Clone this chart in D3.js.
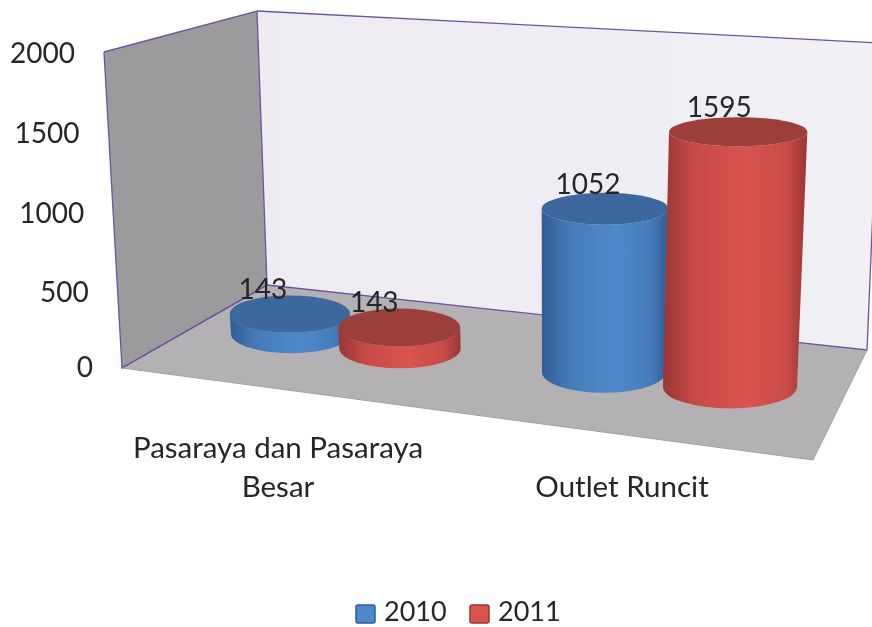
<!DOCTYPE html>
<html><head><meta charset="utf-8">
<script src="https://cdn.jsdelivr.net/npm/d3@7"></script>
<style>html,body{margin:0;padding:0;background:#fff;overflow:hidden}svg{display:block;filter:blur(.45px)}text{font-family:Lato,"Open Sans",sans-serif;fill:#262626}</style>
</head><body><svg id="c" width="872" height="627"></svg>
<script>
const categories=[["Pasaraya dan Pasaraya","Besar"],["Outlet Runcit"]];
const years=["2010","2011"];
const values2010=[143,1052];
const values2011=[143,1595];
const tickValues=[0,500,1000,1500,2000];
const colors={ "2010":{edge:"#2f5c94",mid:"#4f88c9",top:"#3c689e"}, "2011":{edge:"#9a3634",mid:"#d9534f",top:"#9c3f3b"} };

const svg=d3.select("#c"), defs=svg.append("defs");
const line=d3.line();

// room
const LW=[[104,52],[257,11],[267,285],[122,368]];
const BW=[[257,11],[880,43],[867,350],[267,285]];
const FL=[[122,368],[267,285],[867,350],[813,460]];
const bg=defs.append("linearGradient").attr("id","bw").attr("x1",0).attr("x2",1).attr("y1",0).attr("y2",0);
bg.append("stop").attr("offset",0).attr("stop-color","#eeebf2");
bg.append("stop").attr("offset",1).attr("stop-color","#f0f0f5");
svg.append("path").attr("d",line(BW)+"Z").attr("fill","url(#bw)");
svg.append("path").attr("d",line(LW)+"Z").attr("fill","#9b9a9c");
svg.append("path").attr("d",line(FL)+"Z").attr("fill","#b3b1b4");
const pur="#6f52a0";
[[LW[0],LW[1],LW[2],LW[3],LW[0]],[BW[0],BW[1]],[BW[1],BW[2],BW[3]],[FL[0],FL[1]]].forEach(p=>
  svg.append("path").attr("d",line(p)).attr("fill","none").attr("stroke",pur).attr("stroke-width",1.3));
svg.append("path").attr("d",line([FL[2],FL[3],FL[0]])).attr("fill","none").attr("stroke","#a3a1a4").attr("stroke-width",1);

// scales
const y=d3.scaleLinear().domain(tickValues).range([367,292,213,133,53]);
const h=d3.scaleLinear().domain([0,2000]).range([0,320]);
const depth=d3.scaleLinear().domain([291,400,603,730]).range([.875,.92,.97,1]);
const x0=d3.scalePoint().domain(categories.map(d=>d[0])).range([345.5,667]);
const spread=d3.scaleLinear().domain([345.5,667]).range([54.5,63]);
const baseY=d3.scaleLinear().domain([291,400,604,730]).range([334,348.5,372,387]);
const ryS=d3.scaleLinear().domain([130,210,330,390]).range([14.5,16,19,21.5]);
const rxS=d3.scaleLinear().domain([291,603,730]).range([60,62,67]);
const lean=d3.scaleLinear().domain([570,730]).range([0,.032]);
const labDx=d3.scaleLinear().domain([291,400,604,738]).range([-27,-25,-17,-19]);
const tickRight=d3.scaleLinear().domain([367,53]).range([93,75]);

// axis
const ax=svg.append("g").call(d3.axisLeft(y).tickValues(tickValues).tickSize(0).tickFormat(d3.format("d")));
ax.select(".domain").remove();
ax.selectAll(".tick text").attr("font-size",28).attr("font-family",null)
  .attr("x",d=>tickRight(y(d))).attr("dy",".35em").attr("text-anchor","end");

// cylinders
const series=[{y:years[0],v:values2010,s:-1},{y:years[1],v:values2011,s:1}];
series.forEach(se=>{
  const g=defs.append("linearGradient").attr("id","g"+se.y).attr("x1",0).attr("x2",1).attr("y1",0).attr("y2",0);
  const c=colors[se.y];
  [[0,c.edge],[.22,d3.interpolateRgb(c.edge,c.mid)(.7)],[.58,c.mid],[.85,d3.interpolateRgb(c.edge,c.mid)(.75)],[1,c.edge]]
    .forEach(([o,k])=>g.append("stop").attr("offset",o).attr("stop-color",k));
});
const gBars=svg.append("g"), labels=svg.append("g");
categories.forEach((cat,i)=>series.forEach(se=>{
  const v=se.v[i], c=x0(cat[0]);
  const bx=c+se.s*spread(c), by=baseY(bx), H=h(v)*depth(bx);
  const tx=bx+lean(bx)*H, ty=by-H;
  const brx=rxS(bx), trx=brx+H*.0085, bry=ryS(by), tryy=ryS(ty);
  const gg=gBars.append("g");
  gg.append("path").attr("fill",`url(#g${se.y})`).attr("d",
    `M${tx-trx},${ty}L${bx-brx},${by}A${brx},${bry} 0 0 0 ${bx+brx},${by}L${tx+trx},${ty}A${trx},${tryy} 0 0 1 ${tx-trx},${ty}Z`);
  gg.append("ellipse").attr("cx",tx).attr("cy",ty).attr("rx",trx).attr("ry",tryy).attr("fill",colors[se.y].top);
  labels.append("text").attr("x",tx+labDx(tx)).attr("y",ty-15).attr("text-anchor","middle").attr("font-size",28).text(v);
}));

// category labels
const catX=d3.scaleOrdinal().domain(categories.map(d=>d[0])).range([278,622]);
categories.forEach(cat=>{
  const t=svg.append("text").attr("text-anchor","middle").attr("font-size",29.5);
  const startY=cat.length>1?458:497;
  cat.forEach((s,j)=>t.append("tspan").attr("x",catX(cat[0])).attr("y",startY+j*39).text(s));
});

// legend
const lx=d3.scaleOrdinal().domain(years).range([355,469]);
years.forEach(yr=>{
  svg.append("rect").attr("x",lx(yr)+1).attr("y",605).attr("width",19).attr("height",18).attr("rx",2)
    .attr("fill",colors[yr].mid).attr("stroke",colors[yr].edge).attr("stroke-width",1.5);
  svg.append("text").attr("x",lx(yr)+29).attr("y",621).attr("font-size",27).text(yr);
});
</script></body></html>
